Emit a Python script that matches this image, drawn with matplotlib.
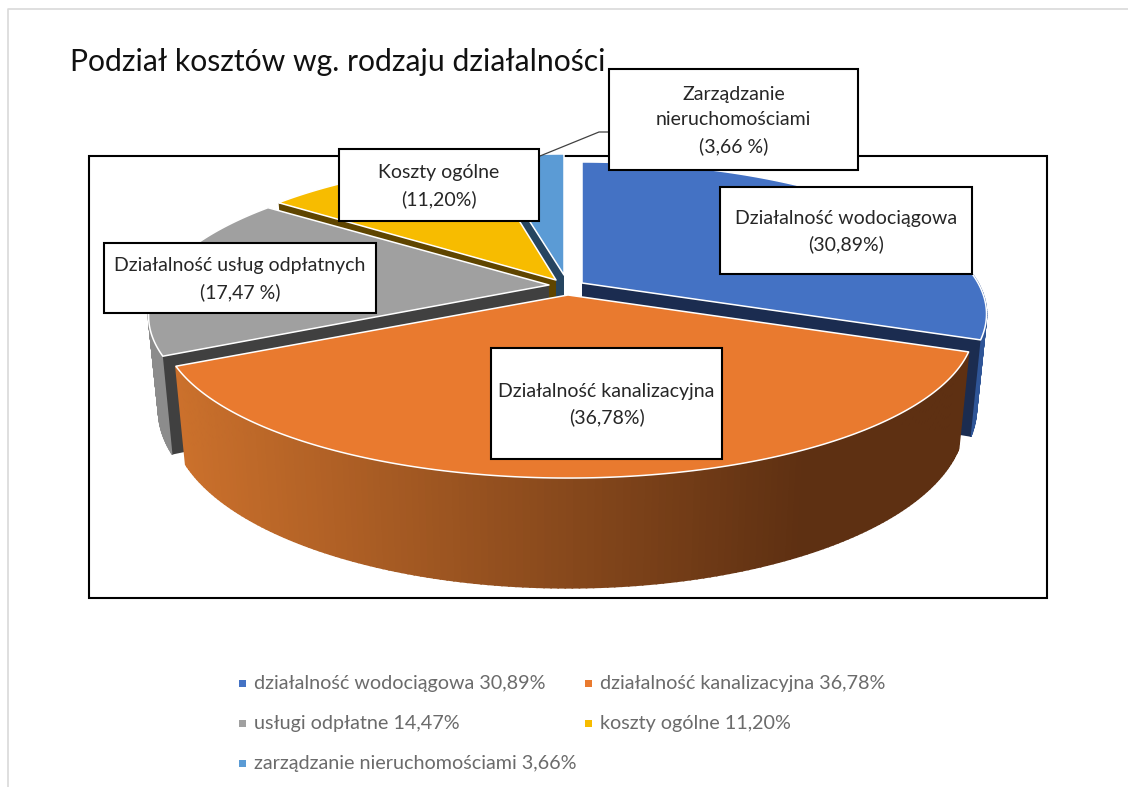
import numpy as np
import matplotlib
matplotlib.use("Agg")
import matplotlib.pyplot as plt
from matplotlib.patches import Rectangle

plt.rcParams['font.family'] = ['Lato', 'DejaVu Sans']

title = "Podział kosztów wg. rodzaju działalności"
shares = [30.89, 36.78, 17.47, 11.20, 3.66]
callouts = ["Działalność wodociągowa\n(30,89%)",
            "Działalność kanalizacyjna\n(36,78%)",
            "Działalność usług odpłatnych\n(17,47 %)",
            "Koszty ogólne\n(11,20%)",
            "Zarządzanie\nnieruchomościami\n(3,66 %)"]
legend_labels = ["działalność wodociągowa 30,89%",
                 "działalność kanalizacyjna 36,78%",
                 "usługi odpłatne 14,47%",
                 "koszty ogólne 11,20%",
                 "zarządzanie nieruchomościami 3,66%"]

top_colors = ['#4472C4', '#E97A2F', '#A0A0A0', '#F7BC00', '#5B9BD5']
cut_colors = ['#1B2C50', None, '#404040', '#5F4500', '#264560']
rim_colors = ['#2F5597', '#5E3012', '#8C8C8C', '#A07A00', '#3E6E9E']
tips = [(582, 283), (568, 295), (549, 285), (556, 280), (564, 275)]
widths = [396, 398, 392, 387, 398]
boxes = [(720, 187, 972, 274), (491, 348, 722, 459), (104, 243, 376, 313),
         (339, 149, 539, 221), (609, 69, 858, 170)]
legend_pos = [(239, 683), (585, 683), (239, 723), (585, 723), (239, 763)]

B, P = 145.7, 0.204    # perspective of the disc
H, SHRINK = 91, 0.975  # depth of the slab


def project(i, theta, r=1.0, low=False):
    u, v = r * np.cos(theta), r * np.sin(theta)
    w = 1 + P * v
    x, y = widths[i] * u / w, -B * v / w
    if low:
        return tips[i][0] + SHRINK * x, tips[i][1] + SHRINK * y + H / w
    return tips[i][0] + x, tips[i][1] + y


def orange_shade(x):
    t = np.clip((x - 175) / (800 - 175), 0, 1)
    c0 = np.array([204, 113, 44])
    c1 = np.array([94, 48, 18])
    return tuple((c0 + (c1 - c0) * t) / 255)


fig = plt.figure(figsize=(11.28, 7.87), dpi=100)
ax = fig.add_axes([0, 0, 1, 1])
ax.set_xlim(0, 1128)
ax.set_ylim(787, 0)
ax.axis('off')

# page border and plot frame
ax.plot([8, 8, 1128], [787, 9, 9], color='#d9d9d9', lw=1.2, zorder=1)
ax.add_patch(Rectangle((89, 156), 958, 442, fill=False, ec='black', lw=1.5, zorder=1))

ax.text(70, 62, title, fontsize=21.7, color='#111111', va='center', ha='left')

# slices: clockwise from the top, like the original
ends = 90 - np.cumsum(shares) * 3.6
starts = np.r_[90, ends[:-1]]
order = [4, 3, 2, 0, 1]
for z, i in enumerate(order):
    tip = tips[i]
    t1, t2 = np.radians(starts[i]), np.radians(ends[i])
    arc = np.linspace(t1, t2, 160)
    zo = 2 + z

    # outer wall, in thin strips, only on the side facing the viewer
    for a0, a1 in zip(arc[:-1], arc[1:]):
        if np.sin(a0) > 0.05 and np.sin(a1) > 0.05:
            continue
        p0, p1 = project(i, a0), project(i, a1)
        q0, q1 = project(i, a0, low=True), project(i, a1, low=True)
        xs = [p0[0], p1[0], q1[0], q0[0]]
        ys = [p0[1], p1[1], q1[1], q0[1]]
        col = orange_shade(np.mean(xs)) if i == 1 else rim_colors[i]
        ax.fill(xs, ys, color=col, lw=1.2, zorder=zo)

    # cut walls (the front slice hides its own)
    if cut_colors[i] is not None:
        for t in (t1, t2):
            e = project(i, t)
            q = project(i, t, low=True)
            b = project(i, t, r=0, low=True)
            ax.fill([tip[0], e[0], q[0], b[0]], [tip[1], e[1], q[1], b[1]],
                    color=cut_colors[i], lw=0, zorder=zo)

    # top face
    pts = [project(i, a) for a in arc]
    xs = [tip[0]] + [p[0] for p in pts]
    ys = [tip[1]] + [p[1] for p in pts]
    ax.fill(xs, ys, facecolor=top_colors[i], edgecolor='white', lw=1.1,
            joinstyle='round', zorder=zo + 0.5)

# leader line of the small slice
ax.plot([540, 599, 610], [156, 132, 132], color='#404040', lw=0.9, zorder=10)

# callouts
for text, (x0, y0, x1, y1) in zip(callouts, boxes):
    ax.add_patch(Rectangle((x0, y0), x1 - x0, y1 - y0, fc='white', ec='black',
                           lw=1.5, zorder=11))
    ax.text((x0 + x1) / 2, (y0 + y1) / 2 + 1, text, ha='center', va='center',
            fontsize=14, color='#262626', linespacing=1.58, zorder=12)

# legend
for label, col, (x, y) in zip(legend_labels, top_colors, legend_pos):
    ax.add_patch(Rectangle((x, y - 3.5), 7, 7, fc=col, ec='none', zorder=5))
    ax.text(x + 15, y, label, ha='left', va='center', fontsize=14.2, color='#6b6b6b')

fig.savefig("out.png", dpi=100)
